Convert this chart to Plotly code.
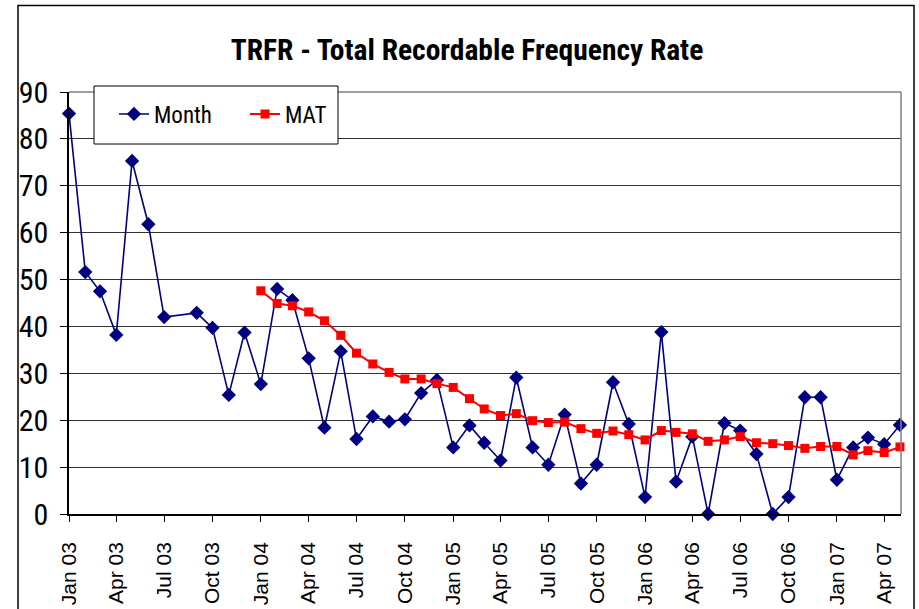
import plotly.graph_objects as go

# ---- data ----
month_dates = [
    "2003-01-01", "2003-02-01", "2003-03-01", "2003-04-01", "2003-05-01", "2003-06-01",
    "2003-07-01", "2003-09-01", "2003-10-01", "2003-11-01", "2003-12-01",
    "2004-01-01", "2004-02-01", "2004-03-01", "2004-04-01", "2004-05-01", "2004-06-01",
    "2004-07-01", "2004-08-01", "2004-09-01", "2004-10-01", "2004-11-01", "2004-12-01",
    "2005-01-01", "2005-02-01", "2005-03-01", "2005-04-01", "2005-05-01", "2005-06-01",
    "2005-07-01", "2005-08-01", "2005-09-01", "2005-10-01", "2005-11-01", "2005-12-01",
    "2006-01-01", "2006-02-01", "2006-03-01", "2006-04-01", "2006-05-01", "2006-06-01",
    "2006-07-01", "2006-08-01", "2006-09-01", "2006-10-01", "2006-11-01", "2006-12-01",
    "2007-01-01", "2007-02-01", "2007-03-01", "2007-04-01", "2007-05-01",
]
month_values = [
    85.4, 51.6, 47.5, 38.2, 75.3, 61.8,
    42.0, 42.9, 39.7, 25.4, 38.7,
    27.7, 48.0, 45.6, 33.2, 18.4, 34.7,
    16.0, 20.8, 19.7, 20.2, 25.8, 28.6,
    14.2, 18.9, 15.2, 11.4, 29.1, 14.2,
    10.5, 21.2, 6.5, 10.5, 28.1, 19.2,
    3.6, 38.8, 6.9, 16.5, 0.0, 19.4,
    17.8, 12.8, 0.0, 3.6, 24.9, 24.9,
    7.3, 14.2, 16.3, 14.9, 19.0,
]
mat_dates = month_dates[11:]
mat_values = [
    47.6, 44.9, 44.4, 43.1, 41.2, 38.1,
    34.3, 32.0, 30.2, 28.8, 28.8, 27.8,
    27.0, 24.6, 22.4, 21.0, 21.4, 19.9,
    19.5, 19.6, 18.2, 17.2, 17.7, 16.9,
    15.8, 17.8, 17.4, 17.1, 15.5, 15.8,
    16.5, 15.2, 15.0, 14.6, 14.0, 14.4,
    14.4, 12.6, 13.5, 13.1, 14.3,
]
series_names = ["Month", "MAT"]
title_text = "TRFR - Total Recordable Frequency Rate"

NARROW = "Liberation Sans Narrow, Arial Narrow, Roboto Condensed, DejaVu Sans Condensed, Arial, sans-serif"
ARIAL = "Liberation Sans, Arial, sans-serif"

fig = go.Figure()
fig.add_trace(go.Scatter(
    x=month_dates, y=month_values, name=series_names[0], mode="lines+markers",
    line=dict(color="#000080", width=1.6),
    marker=dict(symbol="diamond", size=11, color="#000080"),
    cliponaxis=False,
))
fig.add_trace(go.Scatter(
    x=mat_dates, y=mat_values, name=series_names[1], mode="lines+markers",
    line=dict(color="#FF0000", width=2),
    marker=dict(symbol="square", size=9, color="#FF0000"),
    cliponaxis=False,
))

L, R, T, B = 69, 18, 92, 95
W, H = 919, 609
pw, ph = W - L - R, H - T - B

def px_x(p):
    return (p - L) / pw

def px_y(p):
    return (H - B - p) / ph

shapes = [
    # outer chart border
    dict(type="rect", xref="paper", yref="paper",
         x0=px_x(18), x1=px_x(914), y0=px_y(640), y1=px_y(5.5),
         line=dict(color="black", width=1.5), layer="below"),
    # plot area top/right border (grey)
    dict(type="line", xref="paper", yref="paper", x0=0, x1=1, y0=1, y1=1,
         line=dict(color="#808080", width=1.5)),
    dict(type="line", xref="paper", yref="paper", x0=1, x1=1, y0=0, y1=1,
         line=dict(color="#808080", width=1.5)),
    # legend box
    dict(type="rect", xref="paper", yref="paper",
         x0=px_x(94), x1=px_x(338), y0=px_y(144), y1=px_y(86),
         line=dict(color="black", width=1), fillcolor="white", layer="above"),
]

fig.update_layout(
    width=W, height=H,
    margin=dict(l=L, r=R, t=T, b=B, autoexpand=False),
    paper_bgcolor="white", plot_bgcolor="white",
    title=dict(text="<b>" + title_text + "</b>", x=467 / W, xanchor="center",
               y=1 - 50 / H, yanchor="middle", yref="container",
               font=dict(family=NARROW, size=29.5, color="black")),
    showlegend=True,
    legend=dict(orientation="h", x=px_x(114), xanchor="left",
                y=px_y(114), yanchor="middle",
                font=dict(family=NARROW, size=23, color="black"),
                bgcolor="rgba(0,0,0,0)", borderwidth=0,
                entrywidth=86, itemwidth=30),
    shapes=shapes,
    xaxis=dict(
        type="date", automargin=False,
        range=["2003-01-01", "2007-05-03"],
        tick0="2003-01-01", dtick="M3", tickformat="%b %y",
        tickangle=-90,
        ticks="outside", ticklen=6, tickcolor="black", tickwidth=1,
        showline=True, linecolor="black", linewidth=1.5,
        showgrid=False, zeroline=False,
        tickfont=dict(family=ARIAL, size=21, color="black"),
        ticklabelstandoff=12,
    ),
    yaxis=dict(
        automargin=False,
        range=[0, 90], dtick=10, tick0=0,
        ticks="outside", ticklen=7, tickcolor="black", tickwidth=1,
        showline=True, linecolor="black", linewidth=1.5,
        showgrid=True, gridcolor="#333333", gridwidth=1,
        zeroline=False,
        tickfont=dict(family=NARROW, size=30, color="black"),
        ticklabelstandoff=6,
    ),
)

fig.write_html("out.html", config={"displayModeBar": False},
               post_script="document.body.style.margin='0px';")
